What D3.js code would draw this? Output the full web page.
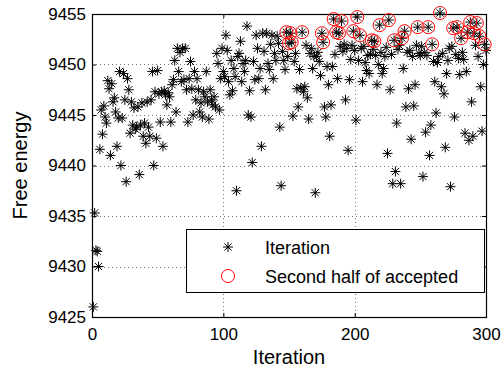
<!DOCTYPE html>
<html>
<head>
<meta charset="utf-8">
<script src="https://cdn.jsdelivr.net/npm/d3@7"></script>
<style>
body { margin: 0; background: #fff; }
svg { display: block; font-family: 'Liberation Sans', Arial, Helvetica, sans-serif; }
.tick line { stroke: #000; }
.tick text { fill: #000; }
</style>
</head>
<body>
<svg width="503" height="369"></svg>
<script>
// free energy per iteration (1..300)
const freeEnergy = [
  9426.0, 9435.3, 9431.6, 9431.5, 9430.0, 9441.6, 9445.5, 9443.1, 9445.9, 9444.8,
  9444.2, 9448.4, 9447.6, 9441.0, 9448.1, 9446.3, 9446.7, 9445.3, 9441.9, 9444.7,
  9449.3, 9440.0, 9444.7, 9449.1, 9446.5, 9438.4, 9448.6, 9447.5, 9443.2, 9446.3,
  9444.0, 9445.7, 9443.6, 9443.8, 9445.8, 9439.1, 9444.0, 9446.2, 9442.9, 9444.2,
  9442.2, 9446.3, 9443.8, 9442.9, 9446.5, 9449.3, 9440.0, 9447.3, 9442.7, 9449.4,
  9447.1, 9444.3, 9447.3, 9441.9, 9447.4, 9447.0, 9446.0, 9447.2, 9446.8, 9444.3,
  9448.0, 9448.5, 9450.4, 9445.3, 9451.6, 9449.3, 9451.2, 9448.3, 9451.6, 9448.5,
  9451.6, 9447.5, 9444.3, 9448.6, 9450.3, 9447.6, 9445.0, 9449.3, 9446.5, 9448.6,
  9447.5, 9445.3, 9446.2, 9444.8, 9447.3, 9446.8, 9449.3, 9446.3, 9444.6, 9447.5,
  9446.5, 9446.0, 9446.8, 9445.8, 9451.1, 9450.1, 9445.5, 9448.6, 9451.6, 9449.3,
  9448.8, 9452.9, 9451.4, 9448.3, 9447.0, 9450.4, 9447.4, 9449.6, 9448.8, 9437.5,
  9450.8, 9451.1, 9452.3, 9448.3, 9450.1, 9449.3, 9450.4, 9453.8, 9445.0, 9447.4,
  9444.8, 9440.3, 9450.3, 9448.5, 9452.9, 9451.6, 9448.6, 9449.6, 9441.9, 9453.1,
  9451.3, 9447.5, 9453.1, 9450.1, 9449.5, 9452.0, 9452.9, 9448.6, 9451.1, 9450.4,
  9452.8, 9452.1, 9443.8, 9438.0, 9451.3, 9450.4, 9449.5, 9453.2, 9450.8, 9452.1,
  9453.1, 9452.2, 9444.9, 9450.3, 9451.1, 9447.6, 9445.8, 9449.5, 9447.7, 9453.2,
  9447.3, 9447.8, 9451.9, 9446.7, 9444.6, 9451.1, 9451.6, 9449.6, 9450.8, 9437.3,
  9450.8, 9451.2, 9450.3, 9448.9, 9453.1, 9452.2, 9445.8, 9444.8, 9449.8, 9448.0,
  9442.9, 9446.0, 9449.8, 9454.5, 9451.0, 9453.2, 9448.6, 9453.1, 9451.8, 9454.3,
  9451.3, 9452.0, 9446.5, 9451.6, 9441.5, 9448.5, 9450.5, 9451.9, 9453.3, 9451.4,
  9444.5, 9454.7, 9450.4, 9452.9, 9451.6, 9448.3, 9451.8, 9450.2, 9449.4, 9450.9,
  9449.1, 9451.0, 9452.4, 9451.5, 9452.3, 9450.9, 9448.0, 9450.0, 9453.9, 9451.2,
  9449.1, 9449.6, 9450.8, 9451.7, 9441.2, 9454.4, 9447.5, 9451.0, 9438.2, 9452.4,
  9439.4, 9444.2, 9451.5, 9451.9, 9438.2, 9452.6, 9449.6, 9453.3, 9445.8, 9451.2,
  9447.6, 9451.4, 9442.6, 9450.8, 9445.9, 9448.0, 9451.9, 9453.7, 9451.1, 9450.9,
  9451.8, 9438.9, 9451.2, 9443.3, 9450.9, 9453.7, 9441.0, 9444.0, 9452.0, 9450.3,
  9448.3, 9445.2, 9450.2, 9450.8, 9455.1, 9447.8, 9451.1, 9447.1, 9441.8, 9449.1,
  9450.4, 9451.6, 9437.9, 9451.8, 9453.6, 9444.8, 9451.0, 9453.7, 9450.6, 9449.0,
  9452.6, 9451.2, 9450.5, 9443.2, 9449.3, 9453.2, 9442.5, 9454.2, 9446.3, 9442.9,
  9453.1, 9451.9, 9454.1, 9450.8, 9452.8, 9447.8, 9443.4, 9450.0, 9452.0, 9451.4
]

// iterations marked with a red circle
const accepted = [148, 150, 151, 152, 160, 175, 176, 184, 186, 188, 190, 199,
  202, 204, 213, 215, 219, 226, 230, 236, 238, 248, 256, 259, 265, 275, 278,
  281, 286, 288, 291, 293, 295, 299]

const xTicks = [0, 100, 200, 300]
const yTicks = [9425, 9430, 9435, 9440, 9445, 9450, 9455]
const legendLabels = ['Iteration', 'Second half of accepted']

const svg = d3.select('svg')
const width = +svg.attr('width')
const height = +svg.attr('height')
const margin = {top: 14, right: 17, bottom: 52, left: 92}
const innerWidth = width - margin.left - margin.right
const innerHeight = height - margin.top - margin.bottom

const data = freeEnergy.map((v, i) => ({iter: i + 1, energy: v}))
const acc = accepted.map(it => data[it - 1])

const xScale = d3.scaleLinear().domain([0, 300]).range([0, innerWidth])
const yScale = d3.scaleLinear().domain([9425, 9455]).range([innerHeight, 0])

// matlab style '*' marker: plus + cross
const asterisk = {
  draw(ctx, size) {
    const r = Math.sqrt(size) / 2
    const d = r * 0.72
    ctx.moveTo(-r, 0); ctx.lineTo(r, 0)
    ctx.moveTo(0, -r); ctx.lineTo(0, r)
    ctx.moveTo(-d, -d); ctx.lineTo(d, d)
    ctx.moveTo(-d, d); ctx.lineTo(d, -d)
  }
}
const star = d3.symbol().type(asterisk).size(100)

const g = svg.append('g')
  .attr('transform', `translate(${margin.left},${margin.top})`)

g.append('rect')
  .attr('width', innerWidth).attr('height', innerHeight)
  .attr('fill', '#fff')

// dotted grid
const grid = g.append('g')
  .attr('stroke', '#777')
  .attr('stroke-width', 1)
  .attr('stroke-dasharray', '1,3')
grid.selectAll('.gx').data(xTicks.slice(1, -1)).enter().append('line')
  .attr('x1', d => Math.round(xScale(d)) + 0.5).attr('x2', d => Math.round(xScale(d)) + 0.5)
  .attr('y1', 0).attr('y2', innerHeight)
grid.selectAll('.gy').data(yTicks.slice(1, -1)).enter().append('line')
  .attr('y1', d => Math.round(yScale(d)) + 0.5).attr('y2', d => Math.round(yScale(d)) + 0.5)
  .attr('x1', 0).attr('x2', innerWidth)

const fontTick = '17px'

const xAxis = g.append('g')
  .attr('transform', `translate(0,${innerHeight})`)
  .call(d3.axisBottom(xScale).tickValues(xTicks).tickSize(-4).tickPadding(11).tickFormat(d3.format('d')))
xAxis.select('.domain').remove()
xAxis.selectAll('text').style('font-size', fontTick)

const xAxisTop = g.append('g')
  .call(d3.axisTop(xScale).tickValues(xTicks).tickSize(-4).tickFormat(''))
xAxisTop.select('.domain').remove()

const yAxis = g.append('g')
  .call(d3.axisLeft(yScale).tickValues(yTicks).tickSize(-4).tickPadding(6).tickFormat(d3.format('d')))
yAxis.select('.domain').remove()
yAxis.selectAll('text').style('font-size', fontTick)

const yAxisRight = g.append('g')
  .attr('transform', `translate(${innerWidth},0)`)
  .call(d3.axisRight(yScale).tickValues(yTicks).tickSize(-4).tickFormat(''))
yAxisRight.select('.domain').remove()

// box
g.append('rect')
  .attr('x', 0.5).attr('y', 0.5)
  .attr('width', innerWidth).attr('height', innerHeight)
  .attr('fill', 'none').attr('stroke', '#000').attr('stroke-width', 1.2)

// stars
g.selectAll('.pt').data(data).enter().append('path')
  .attr('class', 'pt')
  .attr('d', star)
  .attr('transform', d => `translate(${xScale(d.iter)},${yScale(d.energy)})`)
  .attr('fill', 'none').attr('stroke', '#000').attr('stroke-width', 1)

// accepted circles
g.selectAll('.acc').data(acc).enter().append('circle')
  .attr('class', 'acc')
  .attr('cx', d => xScale(d.iter)).attr('cy', d => yScale(d.energy))
  .attr('r', 6.5)
  .attr('fill', 'none').attr('stroke', '#f00').attr('stroke-width', 1)

// axis labels
svg.append('text')
  .attr('x', margin.left + innerWidth / 2).attr('y', 364)
  .attr('text-anchor', 'middle')
  .style('font-size', '20px')
  .text('Iteration')

svg.append('text')
  .attr('transform', `translate(27,${margin.top + innerHeight / 2}) rotate(-90)`)
  .attr('text-anchor', 'middle')
  .style('font-size', '20px')
  .text('Free energy')

// legend
const lg = svg.append('g').attr('transform', 'translate(186,229)')
lg.append('rect')
  .attr('x', 0.5).attr('y', 0.5).attr('width', 298).attr('height', 63)
  .attr('fill', '#fff').attr('stroke', '#000').attr('stroke-width', 1)

lg.append('path')
  .attr('d', star)
  .attr('transform', 'translate(42,18)')
  .attr('fill', 'none').attr('stroke', '#000')
lg.append('circle')
  .attr('cx', 42).attr('cy', 47).attr('r', 6.5)
  .attr('fill', 'none').attr('stroke', '#f00')

lg.selectAll('.lt').data(legendLabels).enter().append('text')
  .attr('x', 79).attr('y', (d, i) => 24.5 + i * 29)
  .style('font-size', '18px')
  .text(d => d)
</script>
</body>
</html>
